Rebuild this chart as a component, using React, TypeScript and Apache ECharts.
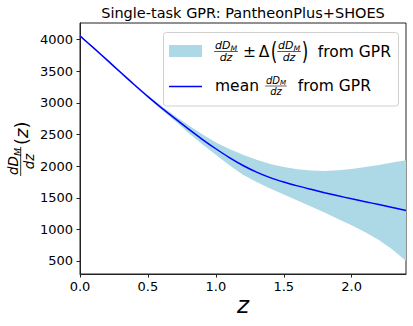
import React, { useEffect, useRef } from "react";
import * as echarts from "echarts";

const zValues = [0.0, 0.1, 0.2, 0.3, 0.4, 0.5, 0.6, 0.7, 0.8, 0.9, 1.0, 1.1, 1.2, 1.3, 1.4, 1.5, 1.6, 1.7, 1.8, 1.9, 2.0, 2.1, 2.2, 2.3, 2.4];
const meanValues = [4060, 3870, 3676, 3481, 3288, 3100, 2922, 2752, 2585, 2425, 2275, 2135, 2010, 1905, 1818, 1748, 1688, 1633, 1580, 1530, 1483, 1438, 1392, 1346, 1300];
const upperValues = [4072, 3882, 3689, 3495, 3303, 3120, 2950, 2792, 2645, 2505, 2375, 2270, 2180, 2100, 2035, 1985, 1950, 1930, 1925, 1935, 1955, 1985, 2020, 2058, 2095];
const lowerValues = [4048, 3858, 3663, 3467, 3273, 3080, 2894, 2712, 2525, 2345, 2180, 2015, 1865, 1750, 1645, 1550, 1455, 1360, 1265, 1165, 1065, 955, 830, 680, 500];
const yTicks = [500, 1000, 1500, 2000, 2500, 3000, 3500, 4000];
const xTicks = [0, 0.5, 1.0, 1.5, 2.0];

const titleText = "Single-task GPR: PantheonPlus+SHOES";
const FONT = "DejaVu Sans";

function fraction(cx: number, barY: number, fs: number): any[] {
  const dDw = 1.405 * fs;
  const mw = 0.604 * fs;
  const numW = dDw + mw;
  const left = cx - numW / 2;
  const barW = numW + fs * 0.15;
  return [
    {
      type: "text",
      x: left,
      y: barY - 0.6,
      style: { text: "dD", font: `italic ${fs}px "${FONT}"`, fill: "#000", textVerticalAlign: "bottom", textAlign: "left" },
    },
    {
      type: "text",
      x: left + dDw,
      y: barY - 0.6 + fs * 0.12,
      style: { text: "M", font: `italic ${(fs * 0.7).toFixed(1)}px "${FONT}"`, fill: "#000", textVerticalAlign: "bottom", textAlign: "left" },
    },
    {
      type: "line",
      shape: { x1: cx - barW / 2, y1: barY, x2: cx + barW / 2, y2: barY },
      style: { stroke: "#000", lineWidth: Math.max(0.6, fs * 0.06) },
    },
    {
      type: "text",
      x: cx,
      y: barY + 0.8,
      style: { text: "dz", font: `italic ${fs}px "${FONT}"`, fill: "#000", textVerticalAlign: "top", textAlign: "center" },
    },
  ];
}

// place a text by its baseline (approx.) using middle alignment
function baseText(text: string, x: number, baseline: number, fs: number, align: string, extra: any = {}): any {
  return {
    type: "text",
    x,
    y: baseline - 0.33 * fs,
    ...extra,
    style: { text, font: `${fs}px "${FONT}"`, fill: "#000", textAlign: align, textVerticalAlign: "middle" },
  };
}

export default function App() {
  const ref = useRef<HTMLDivElement>(null);
  useEffect(() => {
    if (!ref.current) return;
    const chart = echarts.init(ref.current, null, { renderer: "svg" });
    const bandData = zValues.map((z, i) => [z, lowerValues[i], upperValues[i]]);
    const meanData = zValues.map((z, i) => [z, meanValues[i]]);

    const legendFs = 15.5;
    const graphics: any[] = [
      {
        type: "text",
        x: 243,
        y: 13,
        style: { text: titleText, font: `14.5px "${FONT}"`, fill: "#000", textAlign: "center", textVerticalAlign: "middle" },
      },
      {
        type: "text",
        x: 243,
        y: 305,
        style: { text: "z", font: `italic 23px "${FONT}"`, fill: "#000", textAlign: "center", textVerticalAlign: "middle" },
      },
      // y label
      {
        type: "group",
        x: 20.7,
        y: 149,
        rotation: Math.PI / 2,
        children: [
          ...fraction(-12.5, 0, 13.5),
          {
            type: "text",
            x: 4,
            y: 1,
            style: {
              text: "{p|(}{z|z}{p|)}",
              textVerticalAlign: "middle",
              textAlign: "left",
              rich: {
                p: { font: `18px "${FONT}"`, fill: "#000" },
                z: { font: `italic 18px "${FONT}"`, fill: "#000" },
              },
            },
          },
        ],
      },
      // legend box
      {
        type: "rect",
        shape: { x: 163.5, y: 32.5, width: 235, height: 73.5, r: 3 },
        style: { fill: "rgba(255,255,255,0.8)", stroke: "#d0d0d0", lineWidth: 1 },
      },
      {
        type: "rect",
        shape: { x: 169, y: 45, width: 33, height: 12 },
        style: { fill: "#add8e6" },
      },
      ...fraction(226, 51.5, 11),
      baseText("±", 249.5, 56.7, legendFs, "center"),
      baseText("Δ", 264, 56.7, legendFs, "center"),
      {
        type: "text",
        x: 274,
        y: 52,
        scaleX: 0.7,
        style: { text: "(", font: `24px "${FONT}"`, fill: "#000", textAlign: "center", textVerticalAlign: "middle" },
      },
      ...fraction(289, 51.5, 11),
      {
        type: "text",
        x: 305,
        y: 52,
        scaleX: 0.7,
        style: { text: ")", font: `24px "${FONT}"`, fill: "#000", textAlign: "center", textVerticalAlign: "middle" },
      },
      baseText("from GPR", 391, 56.7, legendFs, "right"),
      {
        type: "line",
        shape: { x1: 169, y1: 86.5, x2: 202, y2: 86.5 },
        style: { stroke: "#0000ff", lineWidth: 1.5 },
      },
      baseText("mean", 215, 91, legendFs, "left"),
      ...fraction(276, 86, 10),
      baseText("from GPR", 371, 91, legendFs, "right"),
    ];

    chart.setOption({
      animation: false,
      backgroundColor: "#fff",
      grid: {
        left: 80,
        right: 7,
        top: 23,
        bottom: 52,
        show: true,
        borderColor: "#222",
        borderWidth: 1,
        backgroundColor: "transparent",
        outerBoundsMode: "none",
        containLabel: false,
      },
      xAxis: {
        type: "value",
        min: 0,
        max: 2.4,
        splitLine: { show: false },
        axisLine: { show: true, lineStyle: { color: "#222", width: 1 } },
        axisTick: { show: true, length: 3.5, lineStyle: { color: "#222" }, customValues: xTicks },
        axisLabel: {
          show: true,
          customValues: xTicks,
          formatter: (v: number) => v.toFixed(1),
          color: "#000",
          fontFamily: FONT,
          fontSize: 13,
          margin: 6,
        },
      },
      yAxis: {
        type: "value",
        min: 294,
        max: 4264,
        splitLine: { show: false },
        axisLine: { show: true, lineStyle: { color: "#222", width: 1 } },
        axisTick: { show: true, length: 3.5, lineStyle: { color: "#222" }, customValues: yTicks },
        axisLabel: {
          show: true,
          customValues: yTicks,
          formatter: (v: number) => String(v),
          color: "#000",
          fontFamily: FONT,
          fontSize: 13,
          margin: 7,
        },
      },
      series: [
        {
          type: "custom",
          data: bandData,
          encode: { x: 0, y: [1, 2] },
          silent: true,
          clip: true,
          z: 1,
          renderItem: (params: any, api: any) => {
            if (params.dataIndex !== 0) return null;
            const pts: number[][] = [];
            for (let i = 0; i < zValues.length; i++) pts.push(api.coord([zValues[i], upperValues[i]]));
            for (let i = zValues.length - 1; i >= 0; i--) pts.push(api.coord([zValues[i], lowerValues[i]]));
            return {
              type: "polygon",
              shape: { points: pts },
              style: { fill: "#add8e6", stroke: "none" },
            };
          },
        },
        {
          type: "line",
          data: meanData,
          symbol: "none",
          smooth: 0.3,
          z: 3,
          lineStyle: { color: "#0000ff", width: 1.5 },
          silent: true,
        },
      ],
      graphic: graphics,
    });
    return () => chart.dispose();
  }, []);
  return <div ref={ref} style={{ width: 413, height: 326, position: "absolute", left: 0, top: 0 }} />;
}
